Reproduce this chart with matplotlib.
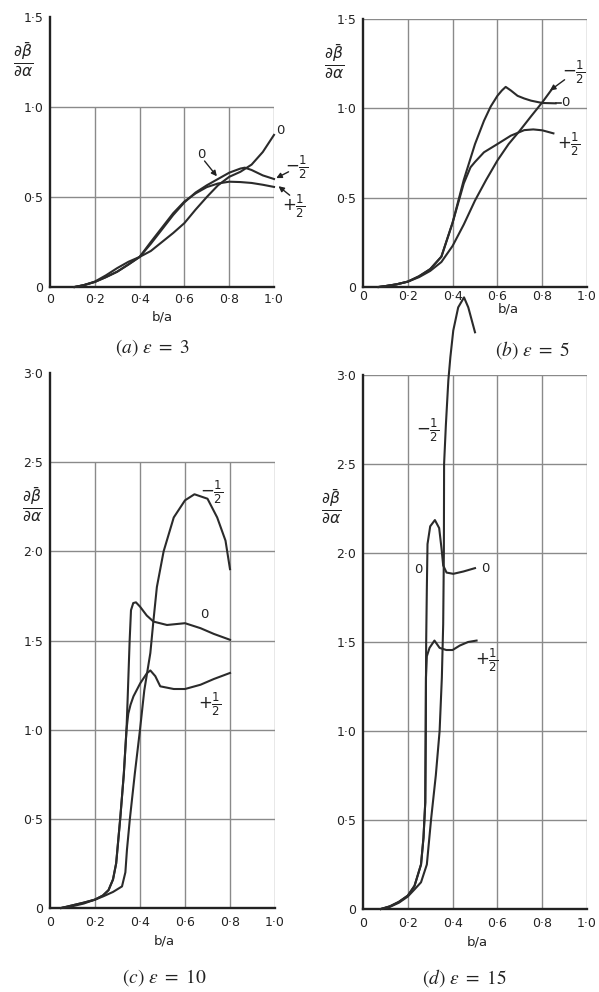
import matplotlib.pyplot as plt

plt.rcParams['font.family'] = ['DejaVu Sans']

# x = b/a, y = d(beta bar)/d(alpha); one set of curves per epsilon
xticks = [0, 0.2, 0.4, 0.6, 0.8, 1.0]
xtick_labels = ['0', '0·2', '0·4', '0·6', '0·8', '1·0']

# (a) epsilon = 3
a_x0 = [0.11, 0.15, 0.2, 0.25, 0.3, 0.35, 0.4, 0.45, 0.5, 0.55, 0.6, 0.65, 0.7, 0.75, 0.8, 0.85, 0.9, 0.95, 1.0]
a_y0 = [0.0, 0.01, 0.03, 0.065, 0.105, 0.14, 0.167, 0.2, 0.25, 0.3, 0.355, 0.43, 0.5, 0.565, 0.612, 0.64, 0.68, 0.75, 0.845]
a_xm = [0.11, 0.15, 0.2, 0.25, 0.3, 0.35, 0.4, 0.45, 0.5, 0.55, 0.6, 0.65, 0.7, 0.75, 0.8, 0.85, 0.87, 0.9, 0.95, 1.0]
a_ym = [0.0, 0.01, 0.028, 0.055, 0.085, 0.125, 0.167, 0.24, 0.32, 0.4, 0.47, 0.525, 0.565, 0.6, 0.635, 0.658, 0.663, 0.65, 0.62, 0.60]
a_xp = [0.11, 0.15, 0.2, 0.25, 0.3, 0.35, 0.4, 0.45, 0.5, 0.55, 0.6, 0.65, 0.7, 0.75, 0.8, 0.85, 0.9, 0.95, 1.0]
a_yp = [0.0, 0.01, 0.028, 0.055, 0.085, 0.125, 0.167, 0.25, 0.33, 0.41, 0.475, 0.52, 0.555, 0.575, 0.585, 0.583, 0.578, 0.568, 0.556]

# (b) epsilon = 5
b_x0 = [0.07, 0.1, 0.15, 0.2, 0.25, 0.3, 0.35, 0.4, 0.45, 0.48, 0.5, 0.54, 0.57, 0.6, 0.62, 0.637, 0.66, 0.69, 0.72, 0.75, 0.8, 0.86]
b_y0 = [0.0, 0.005, 0.015, 0.03, 0.06, 0.1, 0.17, 0.36, 0.6, 0.72, 0.8, 0.93, 1.01, 1.07, 1.10, 1.12, 1.1, 1.07, 1.055, 1.043, 1.03, 1.028]
b_xp = [0.07, 0.1, 0.15, 0.2, 0.25, 0.3, 0.35, 0.4, 0.45, 0.48, 0.5, 0.54, 0.6, 0.66, 0.72, 0.76, 0.8, 0.85]
b_yp = [0.0, 0.005, 0.015, 0.03, 0.06, 0.1, 0.17, 0.36, 0.58, 0.67, 0.7, 0.754, 0.80, 0.847, 0.878, 0.882, 0.877, 0.86]
b_xm = [0.07, 0.1, 0.15, 0.2, 0.25, 0.3, 0.35, 0.4, 0.45, 0.5, 0.55, 0.6, 0.65, 0.7, 0.75, 0.8, 0.845]
b_ym = [0.0, 0.005, 0.015, 0.03, 0.055, 0.09, 0.14, 0.23, 0.35, 0.484, 0.6, 0.708, 0.80, 0.875, 0.955, 1.033, 1.11]

# (c) epsilon = 10
c_x0 = [0.05, 0.1, 0.15, 0.2, 0.235, 0.26, 0.28, 0.294, 0.312, 0.328, 0.34, 0.345, 0.354, 0.36, 0.37, 0.382, 0.40, 0.43, 0.46, 0.52, 0.6, 0.669, 0.728, 0.8]
c_y0 = [0.0, 0.015, 0.03, 0.047, 0.07, 0.1, 0.16, 0.25, 0.5, 0.75, 1.0, 1.17, 1.5, 1.67, 1.71, 1.714, 1.69, 1.64, 1.606, 1.587, 1.597, 1.569, 1.537, 1.504]
c_xp = [0.05, 0.1, 0.15, 0.2, 0.235, 0.26, 0.28, 0.294, 0.312, 0.328, 0.34, 0.348, 0.358, 0.371, 0.401, 0.431, 0.446, 0.468, 0.49, 0.55, 0.6, 0.669, 0.728, 0.8]
c_yp = [0.0, 0.015, 0.03, 0.047, 0.07, 0.1, 0.16, 0.25, 0.5, 0.75, 1.0, 1.09, 1.14, 1.187, 1.26, 1.317, 1.332, 1.30, 1.243, 1.228, 1.228, 1.252, 1.284, 1.318]
c_xm = [0.05, 0.1, 0.15, 0.2, 0.236, 0.28, 0.32, 0.335, 0.342, 0.355, 0.377, 0.40, 0.419, 0.446, 0.46, 0.475, 0.505, 0.55, 0.6, 0.642, 0.7, 0.743, 0.78, 0.8]
c_ym = [0.0, 0.01, 0.025, 0.047, 0.065, 0.09, 0.121, 0.2, 0.326, 0.5, 0.754, 1.0, 1.22, 1.43, 1.615, 1.80, 2.0, 2.19, 2.286, 2.32, 2.295, 2.19, 2.06, 1.9]

# (d) epsilon = 15
d_x0 = [0.08, 0.12, 0.16, 0.2, 0.23, 0.259, 0.27, 0.278, 0.28, 0.282, 0.285, 0.288, 0.30, 0.321, 0.34, 0.351, 0.358, 0.373, 0.403, 0.448, 0.5]
d_y0 = [0.0, 0.015, 0.04, 0.075, 0.13, 0.25, 0.4, 0.6, 1.0, 1.5, 1.8, 2.05, 2.15, 2.185, 2.14, 2.02, 1.93, 1.89, 1.883, 1.896, 1.915]
d_xp = [0.08, 0.12, 0.16, 0.2, 0.23, 0.259, 0.27, 0.278, 0.28, 0.281, 0.285, 0.297, 0.319, 0.342, 0.372, 0.4, 0.432, 0.469, 0.507]
d_yp = [0.0, 0.015, 0.04, 0.075, 0.13, 0.25, 0.4, 0.6, 1.0, 1.3, 1.42, 1.467, 1.508, 1.467, 1.455, 1.455, 1.48, 1.5, 1.508]
d_xm = [0.08, 0.12, 0.16, 0.2, 0.23, 0.259, 0.285, 0.304, 0.325, 0.342, 0.352, 0.358, 0.361, 0.362, 0.37, 0.381, 0.39, 0.403, 0.425, 0.451, 0.47, 0.485, 0.5]
d_ym = [0.0, 0.012, 0.035, 0.07, 0.11, 0.15, 0.25, 0.505, 0.75, 1.0, 1.3, 1.6, 2.0, 2.5, 2.72, 2.97, 3.1, 3.25, 3.38, 3.436, 3.38, 3.31, 3.24]

MINUS_HALF = r'$-\frac{1}{2}$'
PLUS_HALF = r'$+\frac{1}{2}$'
DBDA = r'$\frac{\partial\bar{\beta}}{\partial\alpha}$'

LINE = '#2b2b2b'
GRID = '#8a8a8a'
INK = '#222222'
W, H = 599, 992


def make_panel(rect_px, ymax, grid_top, yticks, ylabels, xpad):
    l, t, r, b = rect_px
    ax = fig.add_axes([l / W, 1 - b / H, (r - l) / W, (b - t) / H])
    ax.set_xlim(0, 1)
    ax.set_ylim(0, ymax)
    for s in ['top', 'right']:
        ax.spines[s].set_visible(False)
    for s in ['left', 'bottom']:
        ax.spines[s].set_linewidth(1.7)
        ax.spines[s].set_color(INK)
    ax.set_xticks(xticks)
    ax.set_xticklabels(xtick_labels)
    ax.set_yticks(yticks)
    ax.set_yticklabels(ylabels)
    ax.tick_params(length=0, labelsize=9, colors=INK)
    ax.tick_params(axis='x', pad=xpad)
    ax.tick_params(axis='y', pad=5)
    # grid stops at grid_top; the y axis itself runs to ymax
    gy = [v for v in yticks if 0 < v <= grid_top]
    ax.hlines(gy, 0, 1.0, color=GRID, lw=1.0, zorder=1)
    ax.vlines(xticks[1:], 0, grid_top, color=GRID, lw=1.0, zorder=1)
    return ax


def curve(ax, x, y):
    ax.plot(x, y, color=LINE, lw=1.5, clip_on=False, zorder=3, solid_joinstyle='round')


def note(ax, s, x, y, size=12):
    ax.text(x, y, s, ha='center', va='center', fontsize=size, color=INK,
            math_fontfamily='dejavusans', clip_on=False)


def arrow(ax, xy, xytext):
    ax.annotate('', xy=xy, xytext=xytext,
                arrowprops=dict(arrowstyle='-|>', color=INK, lw=1.0,
                                mutation_scale=8, shrinkA=0, shrinkB=0),
                annotation_clip=False)


fig = plt.figure(figsize=(W / 100, H / 100), dpi=100)

# (a)
ax = make_panel((50, 17, 274, 287), 1.5, 1.0, [0, 0.5, 1.0, 1.5], ['0', '0·5', '1·0', '1·5'], 4)
curve(ax, a_x0, a_y0)
curve(ax, a_xm, a_ym)
curve(ax, a_xp, a_yp)
note(ax, '0', 1.03, 0.87, 9.5)
note(ax, '0', 0.675, 0.735, 9.5)
arrow(ax, (0.745, 0.615), (0.69, 0.70))
note(ax, MINUS_HALF, 1.10, 0.665)
arrow(ax, (1.01, 0.605), (1.065, 0.64))
note(ax, PLUS_HALF, 1.09, 0.45)
arrow(ax, (1.02, 0.56), (1.07, 0.51))
note(ax, DBDA, -0.12, 1.26, 16)
ax.text(0.5, -0.165, 'b/a', ha='center', va='center', fontsize=9.5, color=INK)

# (b)
ax = make_panel((363, 19, 587, 287), 1.5, 1.5, [0, 0.5, 1.0, 1.5], ['0', '0·5', '1·0', '1·5'], 2)
curve(ax, b_x0, b_y0)
curve(ax, b_xp, b_yp)
curve(ax, b_xm, b_ym)
ax.plot([0.86, 0.885], [1.028, 1.028], color=LINE, lw=1.2)
note(ax, '0', 0.905, 1.03, 9.5)
note(ax, MINUS_HALF, 0.94, 1.2)
arrow(ax, (0.835, 1.1), (0.9, 1.16))
note(ax, PLUS_HALF, 0.92, 0.8)
note(ax, DBDA, -0.13, 1.26, 16)
ax.text(0.65, -0.125, 'b/a', ha='center', va='center', fontsize=9.5, color=INK)

# (c)
ax = make_panel((50, 373, 275, 908), 3.0, 2.5, [0, 0.5, 1.0, 1.5, 2.0, 2.5, 3.0],
                ['0', '0·5', '1·0', '1·5', '2·0', '2·5', '3·0'], 6)
curve(ax, c_x0, c_y0)
curve(ax, c_xp, c_yp)
curve(ax, c_xm, c_ym)
note(ax, MINUS_HALF, 0.72, 2.33)
note(ax, '0', 0.684, 1.646, 9.5)
note(ax, PLUS_HALF, 0.71, 1.14)
note(ax, DBDA, -0.08, 2.26, 16)
ax.text(0.51, -0.185, 'b/a', ha='center', va='center', fontsize=9.5, color=INK)

# (d)
ax = make_panel((363, 375, 587, 909), 3.0, 3.0, [0, 0.5, 1.0, 1.5, 2.0, 2.5, 3.0],
                ['0', '0·5', '1·0', '1·5', '2·0', '2·5', '3·0'], 6)
curve(ax, d_x0, d_y0)
curve(ax, d_xp, d_yp)
curve(ax, d_xm, d_ym)
note(ax, MINUS_HALF, 0.29, 2.69)
note(ax, '0', 0.245, 1.91, 9.5)
note(ax, '0', 0.545, 1.915, 9.5)
note(ax, PLUS_HALF, 0.55, 1.40)
note(ax, DBDA, -0.14, 2.26, 16)
ax.text(0.51, -0.185, 'b/a', ha='center', va='center', fontsize=9.5, color=INK)

captions = [(152, 348, r'$(a)\ \varepsilon\ =\ 3$'), (532, 350, r'$(b)\ \varepsilon\ =\ 5$'),
            (164, 978, r'$(c)\ \varepsilon\ =\ 10$'), (464, 978, r'$(d)\ \varepsilon\ =\ 15$')]
for cx, cy, s in captions:
    fig.text(cx / W, 1 - cy / H, s, ha='center', va='center', fontsize=14,
             math_fontfamily='stix', color=INK)

fig.savefig('out.png', dpi=100, facecolor='white')
